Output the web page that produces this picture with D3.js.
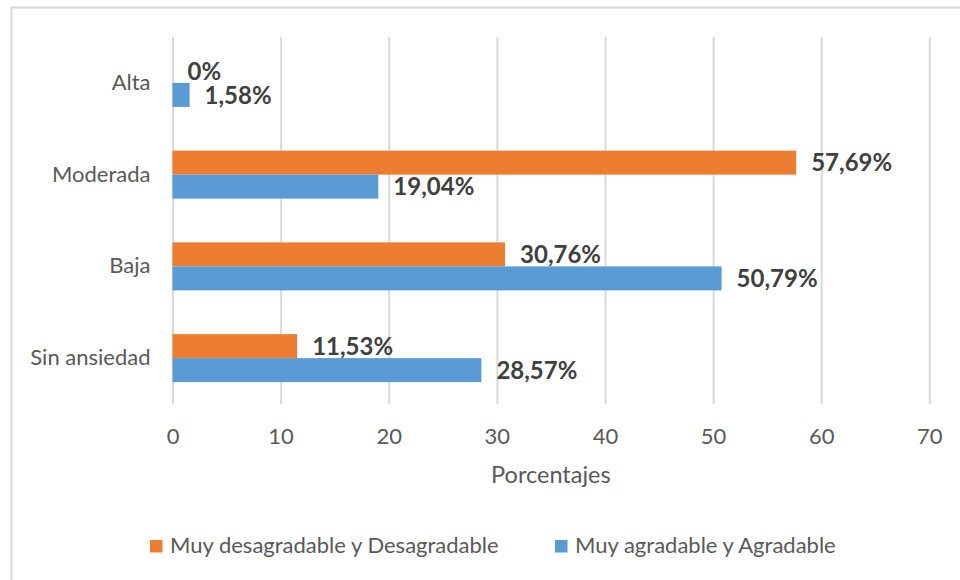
<!DOCTYPE html>
<html><head><meta charset="utf-8">
<script src="https://cdn.jsdelivr.net/npm/d3@7"></script>
<style>body{margin:0;background:#fff}svg{display:block}</style>
</head><body><svg id="c" width="960" height="580"></svg>
<script>
const categories = ["Alta", "Moderada", "Baja", "Sin ansiedad"];
const seriesNames = ["Muy desagradable y Desagradable", "Muy agradable y Agradable"];
const desagradable = [0, 57.69, 30.76, 11.53];
const agradable = [1.58, 19.04, 50.79, 28.57];
const tickValues = [0, 10, 20, 30, 40, 50, 60, 70];
const colors = ["#ED7D31", "#5B9BD5"];
const fmt = v => (v === 0 ? "0" : d3.format(".2f")(v).replace(".", ",")) + "%";

const svg = d3.select("#c");
const font = "Lato, 'Open Sans', sans-serif";
svg.append("rect").attr("x", 11.5).attr("y", 7.5).attr("width", 960).attr("height", 600)
  .attr("fill", "#fff").attr("stroke", "#D9D9D9").attr("stroke-width", 2);

const m = {l: 172.5, r: 929.3, t: 37, b: 404};
const x = d3.scaleLinear().domain([0, 70]).range([m.l, m.r]);
const y = d3.scaleBand().domain(categories).range([m.t, m.b]).paddingInner(0.477).paddingOuter(0.2385);
const y2 = d3.scaleBand().domain([0, 1]).range([0, y.bandwidth()]);

const xAxis = d3.axisBottom(x).tickValues(tickValues).tickSize(-(m.b - m.t)).tickPadding(24);
const gx = svg.append("g").attr("transform", `translate(0,${m.b})`).call(xAxis);
gx.select(".domain").remove();
gx.selectAll(".tick line").attr("stroke", "#D9D9D9").attr("stroke-width", 2);
gx.selectAll(".tick text").attr("fill", "#595959").style("font", `22px ${font}`);

const yAxis = d3.axisLeft(y).tickSize(0).tickPadding(22);
const gy = svg.append("g").attr("transform", `translate(${m.l},0)`).call(yAxis);
gy.select(".domain").remove();
gy.selectAll(".tick text").attr("fill", "#595959").style("font", `22px ${font}`);

const series = [desagradable, agradable];
series.forEach((vals, si) => {
  const g = svg.append("g");
  g.selectAll("rect").data(vals).join("rect")
    .attr("x", x(0)).attr("y", (d, i) => y(categories[i]) + y2(si))
    .attr("width", d => x(d) - x(0)).attr("height", y2.bandwidth())
    .attr("fill", colors[si]);
  g.selectAll("text").data(vals).join("text")
    .attr("x", d => x(d) + 15).attr("y", (d, i) => y(categories[i]) + y2(si) + y2.bandwidth() / 2)
    .attr("dy", "0.36em").attr("fill", "#404040")
    .style("font", `bold 24px ${font}`).text(d => fmt(d));
});

svg.append("text").attr("x", (m.l + m.r) / 2).attr("y", 483).attr("text-anchor", "middle")
  .attr("fill", "#595959").style("font", `23.5px ${font}`).text("Porcentajes");

const legX = [150, 555];
seriesNames.forEach((n, i) => {
  svg.append("rect").attr("x", legX[i]).attr("y", 540).attr("width", 12.5).attr("height", 12.5).attr("fill", colors[i]);
  svg.append("text").attr("x", legX[i] + 20).attr("y", 553)
    .attr("fill", "#595959").style("font", `22px ${font}`).text(n);
});
</script></body></html>
